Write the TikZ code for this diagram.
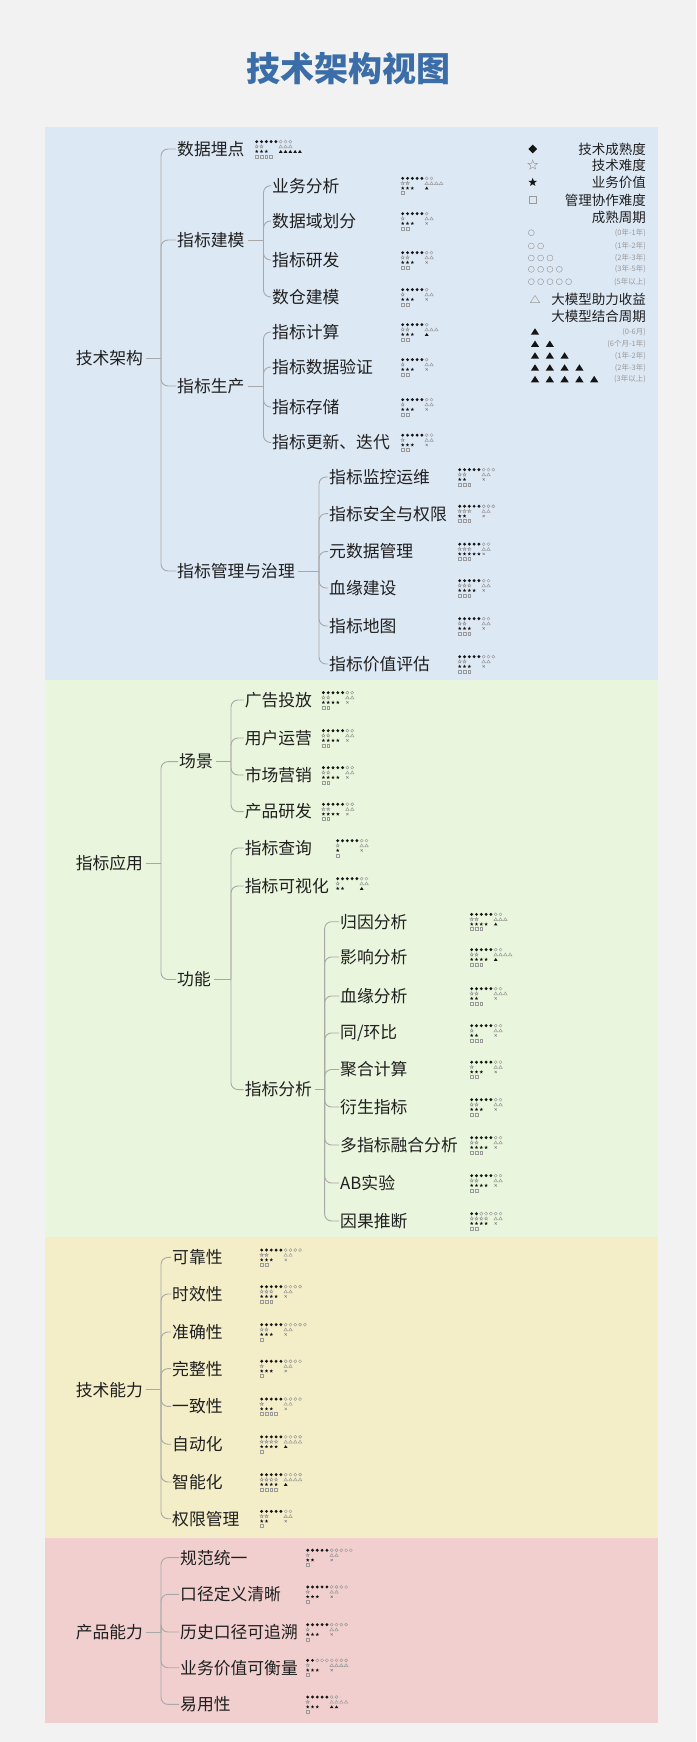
\documentclass[tikz,border=0pt]{standalone}
\usepackage{fontspec}
\setmainfont{Noto Sans CJK SC}
\usepackage{tikz}
\usetikzlibrary{calc}
\definecolor{bgc}{HTML}{F2F2F2}
\definecolor{archfill}{HTML}{DDE8F5}
\definecolor{appfill}{HTML}{E9F5DC}
\definecolor{techfill}{HTML}{F3EEC8}
\definecolor{prodfill}{HTML}{F0CFCE}
\definecolor{titlec}{HTML}{3B6EA8}
\definecolor{txtc}{HTML}{1F1F1F}
\definecolor{linec}{HTML}{A8A8A8}
\definecolor{symc}{HTML}{151515}
\definecolor{openc}{HTML}{9A9A9A}
\newcommand\lbl{\fontsize{16.8}{20}\selectfont}
\tikzset{
  item/.style     ={anchor=west, inner sep=1pt, font=\lbl, text=txtc},
  branch/.style   ={draw=linec, line width=0.9pt, rounded corners=7pt},
  legtext/.style  ={anchor=east, inner sep=0pt, font=\fontsize{13.5}{15}\selectfont, text=txtc},
  legsmall/.style ={anchor=east, inner sep=0pt, font=\fontsize{7.5}{9}\selectfont, text=openc},
  solidsym/.style ={fill=symc, draw=none},
  opensym/.style  ={draw=openc, line width=0.45pt, fill=none},
  rdia/.pic  ={\fill[solidsym] (0,-1.6) -- (1.6,0) -- (0,1.6) -- (-1.6,0) -- cycle;},
  rodia/.pic ={\draw[opensym] (0,-1.6) -- (1.6,0) -- (0,1.6) -- (-1.6,0) -- cycle;},
  rcirc/.pic ={\draw[opensym] (0,0) circle (1.5);},
  rstar/.pic ={\draw[opensym] (-90:1.8) -- (-54:0.75) -- (-18:1.8) -- (18:0.75) -- (54:1.8)
               -- (90:0.75) -- (126:1.8) -- (162:0.75) -- (198:1.8) -- (234:0.75) -- cycle;},
  rfstar/.pic={\fill[solidsym] (-90:1.8) -- (-54:0.75) -- (-18:1.8) -- (18:0.75) -- (54:1.8)
               -- (90:0.75) -- (126:1.8) -- (162:0.75) -- (198:1.8) -- (234:0.75) -- cycle;},
  rtri/.pic  ={\draw[opensym] (-1.8,1.3) -- (1.8,1.3) -- (0,-1.5) -- cycle;},
  rftri/.pic ={\fill[solidsym] (-1.8,1.3) -- (1.8,1.3) -- (0,-1.5) -- cycle;},
  rsq/.pic   ={\draw[opensym] (-1.4,-1.4) rectangle (1.4,1.4);},
  rcross/.pic={\draw[opensym, draw=gray] (-1.1,-1.1) -- (1.1,1.1) (-1.1,1.1) -- (1.1,-1.1);},
}
% #1 position, #2 maturity, #3 cycle, #4 difficulty, #5 llm gain, #6 value, #7 llm cycle (0 = none), #8 cooperation
\newcommand\rating[8]{%
  \begin{scope}[shift={(#1)}]
    \foreach \i in {1,...,5}{\ifnum\i>#2\relax \pic at ({1.7+(\i-1)*4.8},-7.35) {rodia};\else \pic at ({1.7+(\i-1)*4.8},-7.35) {rdia};\fi}
    \foreach \i in {1,...,5}{\ifnum\i>#3\relax\else \pic at ({1.7+(\i+4)*4.8},-7.35) {rcirc};\fi}
    \foreach \i in {1,...,5}{\ifnum\i>#4\relax\else \pic at ({1.7+(\i-1)*4.8},-2.45) {rstar};\fi}
    \foreach \i in {1,...,5}{\ifnum\i>#5\relax\else \pic at ({1.7+(\i+4)*4.8},-2.45) {rtri};\fi}
    \foreach \i in {1,...,5}{\ifnum\i>#6\relax\else \pic at ({1.7+(\i-1)*4.8},2.45) {rfstar};\fi}
    \ifnum#7=0 \pic at (25.7,2.45) {rcross};\else
      \foreach \i in {1,...,5}{\ifnum\i>#7\relax\else \pic at ({1.7+(\i+4)*4.8},2.45) {rftri};\fi}\fi
    \foreach \i in {1,...,5}{\ifnum\i>#8\relax\else \pic at ({1.7+(\i-1)*4.8},7.35) {rsq};\fi}
  \end{scope}}

\begin{document}
\begin{tikzpicture}[x=1pt, y=-1pt]
  \useasboundingbox (0,0) rectangle (696,1742);
  \fill[bgc] (0,0) rectangle (696,1742);
  \fill[archfill] (44.5,127) rectangle (658,680);
  \fill[appfill] (44.5,680) rectangle (658,1237);
  \fill[techfill] (44.5,1237) rectangle (658,1538);
  \fill[prodfill] (44.5,1538) rectangle (658,1723);

  \node[font=\fontsize{34}{40}\selectfont\bfseries, text=titlec] (title) at (348.5,69) {技术架构视图};

  % rating columns
  \coordinate (rc1) at (255,0);
  \coordinate (rc2) at (401,0);
  \coordinate (rc3) at (458,0);
  \coordinate (rc4) at (321.7,0);
  \coordinate (rc5) at (336,0);
  \coordinate (rc6) at (470,0);
  \coordinate (rc7) at (260,0);
  \coordinate (rc8) at (306,0);

  % legend
  \pic[scale=2.7] at (532.7,149) {rdia};
  \node[legtext] (lg-a) at (646,149) {技术成熟度};
  \pic[scale=2.8] at (532.7,165) {rstar};
  \node[legtext] (lg-b) at (646,165) {技术难度};
  \pic[scale=2.5] at (532.7,182.3) {rfstar};
  \node[legtext] (lg-c) at (646,182.3) {业务价值};
  \pic[scale=2.4] at (532.7,200) {rsq};
  \node[legtext] (lg-d) at (646,200) {管理协作难度};
  \node[legtext] (lg-e) at (646,217.3) {成熟周期};
  \foreach \n/\y/\t in {1/232.7/{(0年-1年)}, 2/246/{(1年-2年)}, 3/258/{(2年-3年)}, 4/269.3/{(3年-5年)}, 5/281.7/{(5年以上)}}{
    \foreach \i in {1,...,\n} \pic[scale=2] at ({531.3+(\i-1)*9.33},\y) {rcirc};
    \node[legsmall] (lc-\n) at (646,\y) {\t};
  }
  \pic[scale=2.6] at (535,299.3) {rtri};
  \node[legtext] (lg-f) at (646,299.3) {大模型助力收益};
  \node[legtext] (lg-g) at (646,316.7) {大模型结合周期};
  \foreach \n/\y/\t in {1/331.7/{(0-6月)}, 2/344/{(6个月-1年)}, 3/355.7/{(1年-2年)}, 4/367.7/{(2年-3年)}, 5/379.3/{(3年以上)}}{
    \foreach \i in {1,...,\n} \pic[scale=2.3] at ({535+(\i-1)*14.8},\y) {rftri};
    \node[legsmall] (lt-\n) at (646,\y) {\t};
  }

  % 技术架构
  \node[item] (jg) at (74.6,358) {技术架构};
  \coordinate (jgj) at (161,358);
  \node[item] (maidian) at (176,149) {数据埋点};
  \node[item] (jianmo) at (176,240) {指标建模};
  \node[item] (shengchan) at (176,386) {指标生产};
  \node[item] (guanli) at (176,571) {指标管理与治理};
  \draw[branch] (jg.east) ++(2,0) -- (jgj);
  \foreach \c in {maidian, jianmo, shengchan, guanli} \draw[branch] (jgj) |- (\c.west);

  \coordinate (jmj) at (263.5,240);
  \node[item] (yewu) at (271,185.7) {业务分析};
  \node[item] (yuhua) at (271,221) {数据域划分};
  \node[item] (yanfa) at (271,260) {指标研发};
  \node[item] (shucang) at (271,297) {数仓建模};
  \draw[branch] (jianmo.east) ++(2,0) -- (jmj);
  \foreach \c in {yewu, yuhua, yanfa, shucang} \draw[branch] (jmj) |- (\c.west);

  \coordinate (scj) at (263.5,386);
  \node[item] (jisuan) at (271,332) {指标计算};
  \node[item] (yanzheng) at (271,367) {指标数据验证};
  \node[item] (cunchu) at (271,407) {指标存储};
  \node[item] (gengxin) at (271,442.5) {指标更新、迭代};
  \draw[branch] (shengchan.east) ++(2,0) -- (scj);
  \foreach \c in {jisuan, yanzheng, cunchu, gengxin} \draw[branch] (scj) |- (\c.west);

  \coordinate (glj) at (319,571);
  \node[item] (jiankong) at (328,477) {指标监控运维};
  \node[item] (anquan) at (328,513.6) {指标安全与权限};
  \node[item] (yuanshuju) at (328,551.5) {元数据管理};
  \node[item] (xueyuan) at (328,588) {血缘建设};
  \node[item] (ditu) at (328,626) {指标地图};
  \node[item] (jiazhi) at (328,664) {指标价值评估};
  \draw[branch] (guanli.east) ++(2,0) -- (glj);
  \foreach \c in {jiankong, anquan, yuanshuju, xueyuan, ditu, jiazhi} \draw[branch] (glj) |- (\c.west);

  \rating{rc1 |- maidian}{5}{3}{2}{3}{3}{5}{4}
  \rating{rc2 |- yewu}{5}{2}{2}{4}{3}{1}{1}
  \rating{rc2 |- yuhua}{5}{1}{1}{2}{3}{0}{2}
  \rating{rc2 |- yanfa}{5}{2}{2}{2}{3}{0}{2}
  \rating{rc2 |- shucang}{5}{1}{1}{2}{3}{0}{2}
  \rating{rc2 |- jisuan}{5}{1}{2}{3}{3}{1}{2}
  \rating{rc2 |- yanzheng}{5}{1}{1}{2}{3}{0}{2}
  \rating{rc2 |- cunchu}{5}{2}{1}{2}{3}{0}{2}
  \rating{rc2 |- gengxin}{5}{2}{1}{2}{3}{0}{2}
  \rating{rc3 |- jiankong}{5}{3}{2}{2}{2}{0}{3}
  \rating{rc3 |- anquan}{5}{3}{3}{2}{2}{0}{3}
  \rating{rc3 |- yuanshuju}{5}{2}{3}{2}{5}{0}{3}
  \rating{rc3 |- xueyuan}{5}{2}{3}{2}{4}{0}{3}
  \rating{rc3 |- ditu}{5}{2}{2}{2}{3}{0}{3}
  \rating{rc3 |- jiazhi}{5}{3}{2}{2}{3}{0}{3}

  % 指标应用
  \node[item] (yy) at (74.6,863) {指标应用};
  \coordinate (yyj) at (161,863);
  \node[item] (changjing) at (178,761.6) {场景};
  \node[item] (gongneng) at (176,979.5) {功能};
  \draw[branch] (yy.east) ++(2,0) -- (yyj);
  \foreach \c in {changjing, gongneng} \draw[branch] (yyj) |- (\c.west);

  \coordinate (cjj) at (231,761.6);
  \node[item] (guanggao) at (243.6,700) {广告投放};
  \node[item] (yonghu) at (243.6,738) {用户运营};
  \node[item] (shichang) at (243.6,775) {市场营销};
  \node[item] (chanpin) at (243.6,811.6) {产品研发};
  \draw[branch] (changjing.east) ++(2,0) -- (cjj);
  \foreach \c in {guanggao, yonghu, shichang, chanpin} \draw[branch] (cjj) |- (\c.west);

  \coordinate (gnj) at (231,979.5);
  \node[item] (chaxun) at (243.6,848) {指标查询};
  \node[item] (keshihua) at (243.6,886) {指标可视化};
  \node[item] (fenxi) at (243.6,1089.6) {指标分析};
  \draw[branch] (gongneng.east) ++(2,0) -- (gnj);
  \foreach \c in {chaxun, keshihua, fenxi} \draw[branch] (gnj) |- (\c.west);

  \coordinate (fxj) at (324.6,1089.6);
  \node[item] (guiyin) at (339,921.7) {归因分析};
  \node[item] (yingxiang) at (339,957) {影响分析};
  \node[item] (xyfenxi) at (339,996) {血缘分析};
  \node[item] (tonghuan) at (339,1033) {同/环比};
  \node[item] (juhe) at (339,1069.5) {聚合计算};
  \node[item] (yansheng) at (339,1107) {衍生指标};
  \node[item] (duozhibiao) at (339,1145) {多指标融合分析};
  \node[item] (ab) at (339,1183) {AB实验};
  \node[item] (yinguo) at (339,1221) {因果推断};
  \draw[branch] (fenxi.east) ++(2,0) -- (fxj);
  \foreach \c in {guiyin, yingxiang, xyfenxi, tonghuan, juhe, yansheng, duozhibiao, ab, yinguo}
    \draw[branch] (fxj) |- (\c.west);

  \rating{rc4 |- guanggao}{5}{2}{2}{2}{4}{0}{2}
  \rating{rc4 |- yonghu}{5}{2}{2}{2}{4}{0}{2}
  \rating{rc4 |- shichang}{5}{2}{2}{2}{4}{0}{2}
  \rating{rc4 |- chanpin}{5}{2}{2}{2}{4}{0}{2}
  \rating{rc5 |- chaxun}{5}{2}{1}{2}{1}{0}{1}
  \rating{rc5 |- keshihua}{5}{2}{1}{2}{2}{1}{0}
  \rating{rc6 |- guiyin}{5}{2}{2}{3}{4}{1}{3}
  \rating{rc6 |- yingxiang}{5}{2}{2}{4}{4}{1}{3}
  \rating{rc6 |- xyfenxi}{5}{2}{2}{3}{2}{0}{3}
  \rating{rc6 |- tonghuan}{5}{2}{1}{2}{2}{0}{3}
  \rating{rc6 |- juhe}{5}{2}{1}{2}{3}{0}{2}
  \rating{rc6 |- yansheng}{5}{2}{2}{2}{3}{0}{2}
  \rating{rc6 |- duozhibiao}{5}{2}{2}{2}{4}{0}{3}
  \rating{rc6 |- ab}{5}{2}{2}{2}{4}{0}{2}
  \rating{rc6 |- yinguo}{2}{2}{4}{2}{4}{0}{2}

  % 技术能力
  \node[item] (nl) at (74.6,1389.7) {技术能力};
  \coordinate (nlj) at (161,1389.7);
  \node[item] (kekao) at (171,1257.4) {可靠性};
  \node[item] (shixiao) at (171,1294) {时效性};
  \node[item] (zhunque) at (171,1332) {准确性};
  \node[item] (wanzheng) at (171,1368.6) {完整性};
  \node[item] (yizhi) at (171,1406.4) {一致性};
  \node[item] (zidong) at (171,1444.2) {自动化};
  \node[item] (zhineng) at (171,1482) {智能化};
  \node[item] (quanxian) at (171,1518.7) {权限管理};
  \draw[branch] (nl.east) ++(2,0) -- (nlj);
  \foreach \c in {kekao, shixiao, zhunque, wanzheng, yizhi, zidong, zhineng, quanxian}
    \draw[branch] (nlj) |- (\c.west);

  \rating{rc7 |- kekao}{5}{4}{2}{2}{3}{0}{2}
  \rating{rc7 |- shixiao}{5}{4}{3}{2}{4}{0}{3}
  \rating{rc7 |- zhunque}{5}{5}{2}{2}{3}{0}{1}
  \rating{rc7 |- wanzheng}{5}{4}{1}{2}{3}{0}{1}
  \rating{rc7 |- yizhi}{5}{4}{1}{2}{3}{0}{4}
  \rating{rc7 |- zidong}{5}{4}{4}{4}{4}{1}{1}
  \rating{rc7 |- zhineng}{5}{4}{4}{4}{4}{1}{4}
  \rating{rc7 |- quanxian}{5}{2}{2}{2}{2}{0}{1}

  % 产品能力
  \node[item] (cp) at (74.6,1632) {产品能力};
  \coordinate (cpj) at (161,1632);
  \node[item] (guifan) at (179,1557.6) {规范统一};
  \node[item] (koujing) at (179,1594.3) {口径定义清晰};
  \node[item] (lishi) at (179,1632) {历史口径可追溯};
  \node[item] (hengliang) at (179,1667.7) {业务价值可衡量};
  \node[item] (yiyong) at (179,1704.4) {易用性};
  \draw[branch] (cp.east) ++(2,0) -- (cpj);
  \foreach \c in {guifan, koujing, lishi, hengliang, yiyong} \draw[branch] (cpj) |- (\c.west);

  \rating{rc8 |- guifan}{5}{5}{1}{2}{2}{0}{1}
  \rating{rc8 |- koujing}{5}{4}{1}{2}{3}{0}{1}
  \rating{rc8 |- lishi}{5}{4}{1}{2}{3}{0}{1}
  \rating{rc8 |- hengliang}{2}{4}{1}{4}{3}{0}{1}
  \rating{rc8 |- yiyong}{5}{2}{1}{4}{3}{2}{1}
\end{tikzpicture}
\end{document}
